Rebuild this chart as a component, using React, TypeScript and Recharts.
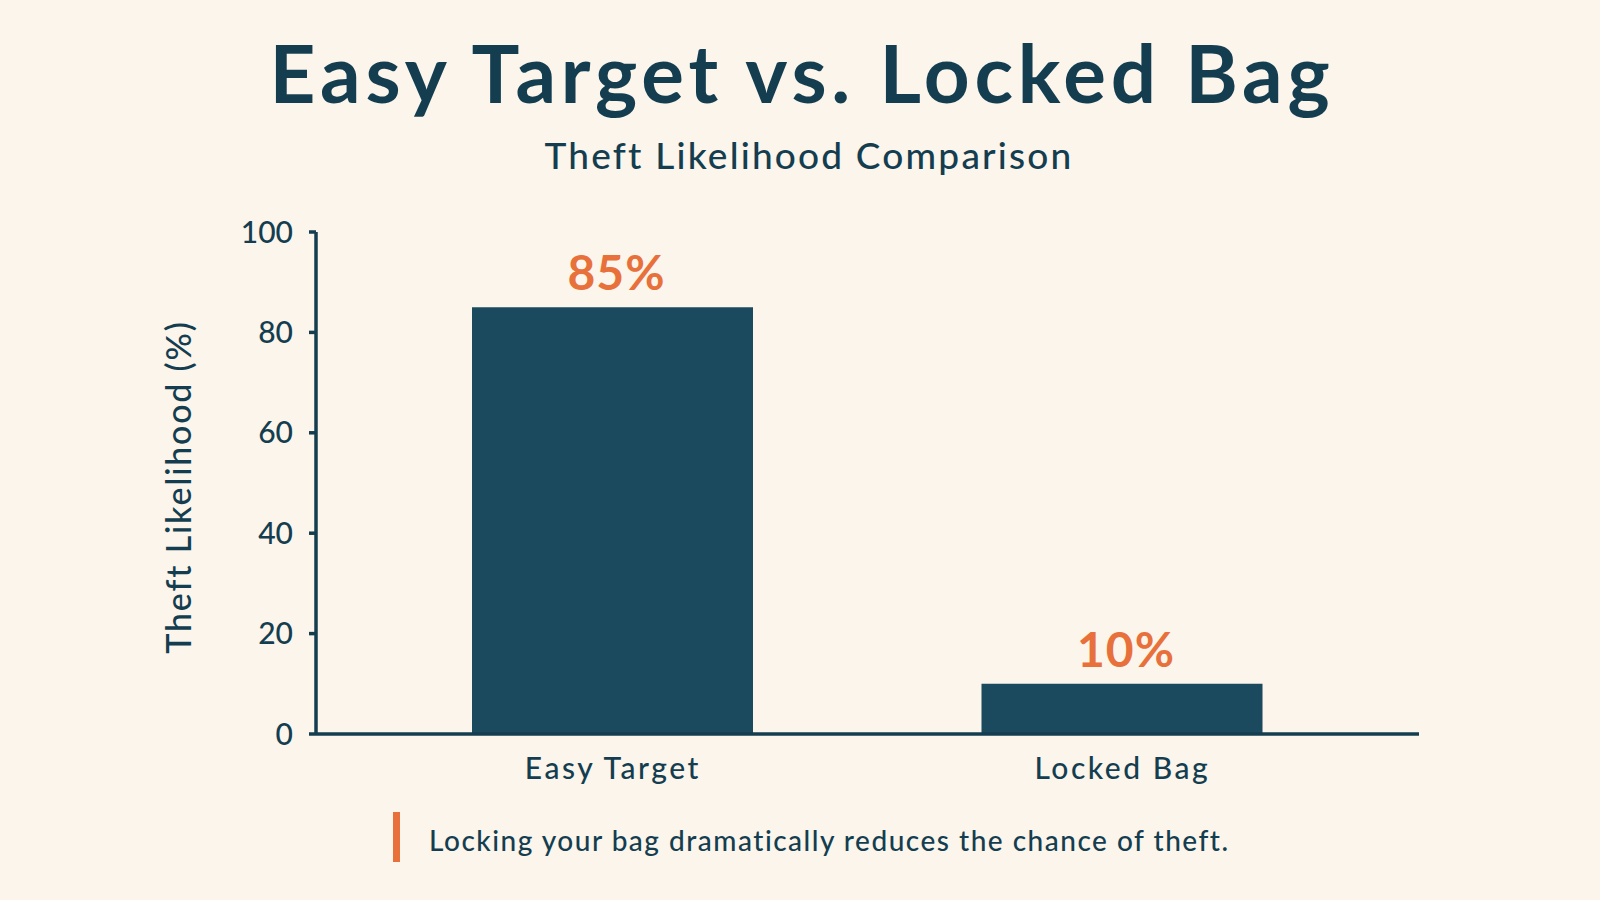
import React from 'react';
import { BarChart, Bar, XAxis, YAxis, LabelList } from 'recharts';

const categories = ['Easy Target', 'Locked Bag'];
const theftLikelihood = [85, 10];
const yTicks = [0, 20, 40, 60, 80, 100];

const BG = '#FBF5EC';
const NAVY = '#143E50';
const BAR = '#1B4A5E';
const ORANGE = '#E8703A';
const FONT = 'Lato, "Noto Sans", sans-serif';

const data = categories.map((name, i) => ({ name, value: theftLikelihood[i] }));

export default function App() {
  return (
    <div
      style={{
        position: 'fixed',
        left: 0,
        top: 0,
        width: 1600,
        height: 900,
        background: BG,
        fontFamily: FONT,
        color: NAVY,
        overflow: 'hidden',
      }}
    >
      <div
        style={{
          position: 'absolute',
          top: 22,
          left: 2,
          width: 1600,
          textAlign: 'center',
          fontSize: 80,
          fontWeight: 700,
          lineHeight: '100px',
          letterSpacing: 4.8,
        }}
      >
        Easy Target vs. Locked Bag
      </div>
      <div
        style={{
          position: 'absolute',
          top: 130,
          left: 9,
          width: 1600,
          textAlign: 'center',
          fontSize: 37,
          fontWeight: 500,
          lineHeight: '50px',
          letterSpacing: 2.2,
        }}
      >
        Theft Likelihood Comparison
      </div>

      <div
        style={{
          position: 'absolute',
          left: 178 - 200,
          top: 487 - 22,
          width: 400,
          height: 44,
          lineHeight: '44px',
          textAlign: 'center',
          fontSize: 34,
          fontWeight: 500,
          letterSpacing: 1.8,
          transform: 'rotate(-90deg)',
          transformOrigin: '200px 22px',
        }}
      >
        Theft Likelihood (%)
      </div>

      <div style={{ position: 'absolute', left: 0, top: 0 }}>
        <BarChart
          width={1600}
          height={900}
          data={data}
          margin={{ top: 232, right: 181, bottom: 106, left: 236 }}
        >
          <XAxis
            dataKey="name"
            height={60}
            padding={{ left: 42, right: 42 }}
            axisLine={{ stroke: NAVY, strokeWidth: 3.5 }}
            tickLine={false}
            tickSize={0}
            tickMargin={24}
            tick={{ fill: NAVY, fontSize: 30, fontFamily: FONT, fontWeight: 500, letterSpacing: 2.5 }}
          />
          <YAxis
            type="number"
            domain={[0, 100]}
            ticks={yTicks}
            width={80}
            axisLine={{ stroke: NAVY, strokeWidth: 3.5 }}
            tickLine={{ stroke: NAVY, strokeWidth: 3.5 }}
            tickSize={7}
            tickMargin={16}
            tick={{ fill: NAVY, fontSize: 30, fontFamily: FONT, fontWeight: 500 }}
          />
          <Bar dataKey="value" fill={BAR} barSize={281} isAnimationActive={false}>
            <LabelList
              dataKey="value"
              position="top"
              offset={17}
              formatter={(v: number) => `${v}%`}
              fill={ORANGE}
              fontSize={48}
              fontWeight={700}
              fontFamily={FONT}
              letterSpacing={1}
              dx={4}
            />
          </Bar>
        </BarChart>
      </div>

      <div
        style={{
          position: 'absolute',
          left: 393,
          top: 812,
          width: 7,
          height: 50,
          background: ORANGE,
        }}
      />
      <div
        style={{
          position: 'absolute',
          left: 429,
          top: 820,
          fontSize: 28,
          fontWeight: 500,
          lineHeight: '40px',
          whiteSpace: 'nowrap',
          letterSpacing: 1.5,
        }}
      >
        Locking your bag dramatically reduces the chance of theft.
      </div>
    </div>
  );
}
